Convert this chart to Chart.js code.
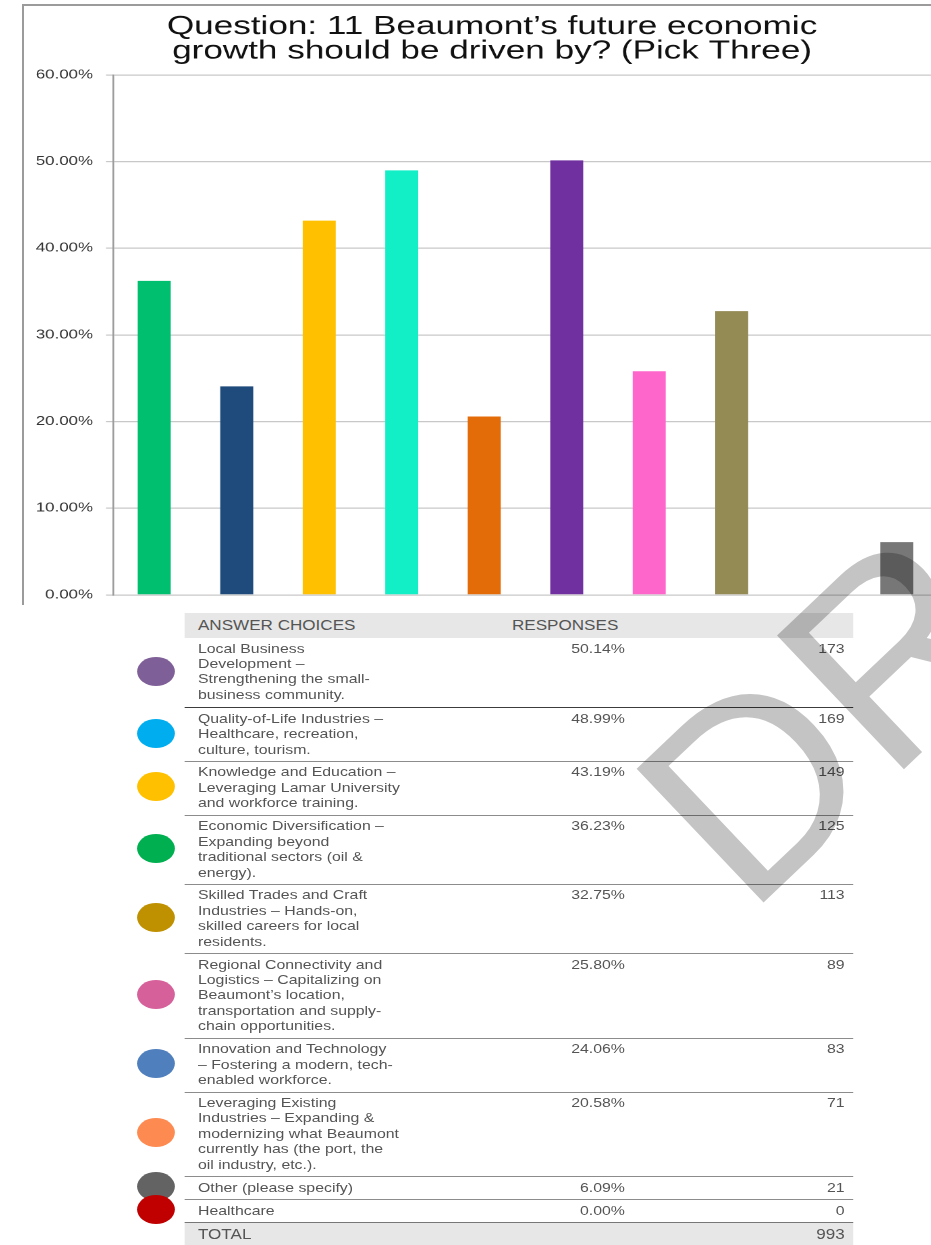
<!DOCTYPE html>
<html>
<head>
<meta charset="utf-8">
<script src="https://cdn.jsdelivr.net/npm/chart.js@4/dist/chart.umd.min.js"></script>
<style>
  html, body { margin: 0; padding: 0; background: #fff; }
  body { width: 931px; height: 1245px; position: relative; overflow: hidden; font-family: 'Liberation Sans', Arial, sans-serif; }
  #frame { position: absolute; left: 22px; top: 4px; width: 920px; height: 599px; border-left: 2px solid #9b9b9b; border-top: 2px solid #9b9b9b; }
  /* the survey export is stretched sideways, so the chart is laid out narrow and widened */
  #chartBox { position: absolute; left: 24px; top: 6px; width: 684px; height: 606px; transform: scaleX(1.35); transform-origin: 0 0; }
  #table { position: absolute; left: 120px; top: 613px; width: 601px; transform: scaleX(1.22); transform-origin: 0 0; color: #555; filter: blur(0.35px); }
  .head, .row, .total { margin-left: 53.3px; width: 547.5px; box-sizing: border-box; position: relative; }
  .head { height: 25px; background: #e7e7e7; font-size: 14px; line-height: 25px; }
  .head span { position: absolute; top: 0; }
  .row { border-top: 1.5px solid #8c8c8c; font-size: 13px; line-height: 15.4px; }
  .row.first { border-top: none; }
  .row.dark { border-top-color: #3c3c3c; }
  .choice { position: absolute; left: 10.6px; top: 2.5px; white-space: nowrap; }
  .pct { position: absolute; right: 186.9px; top: 2.5px; }
  .cnt { position: absolute; right: 6.8px; top: 2.5px; }
  .dot { position: absolute; left: -39.3px; top: 50%; width: 31px; height: 29px; margin-top: -16px; border-radius: 50%; }
  .total { height: 23px; background: #e7e7e7; border-top: 1.5px solid #777; font-size: 14px; line-height: 22px; }
  .total span { position: absolute; top: 0; }
  #wm { position: absolute; left: 0; top: 0; pointer-events: none; }
</style>
</head>
<body>
<div id="frame"></div>
<div id="chartBox"><canvas id="q11"></canvas></div>
<div id="table"></div>
<canvas id="wm" width="931" height="1245"></canvas>
<script>
// Question 11 – answers in plotted order
const categories = [
  'Economic Diversification',
  'Innovation and Technology',
  'Knowledge and Education',
  'Quality-of-Life Industries',
  'Leveraging Existing Industries',
  'Local Business Development',
  'Regional Connectivity and Logistics',
  'Skilled Trades and Craft Industries',
  'Healthcare',
  'Other (please specify)'
];
const percents = [36.23, 24.06, 43.19, 48.99, 20.58, 50.14, 25.80, 32.75, 0.00, 6.09];
const counts = [125, 83, 149, 169, 71, 173, 89, 113, 0, 21];
const totalResponses = 993;

const barColors = ['#00bf6f', '#1f4a7c', '#ffc000', '#12efc6', '#e36c09', '#7030a0', '#ff66cc', '#948a54', '#c00000', '#777777'];
const dotColors = ['#00b050', '#4f7fbd', '#ffc000', '#00aeef', '#fd8a50', '#7f5f98', '#d6609a', '#bf9000', '#c00000', '#636363'];

// answer text as it wraps in the response table
const choiceLines = [
  ['Economic Diversification –', 'Expanding beyond', 'traditional sectors (oil &', 'energy).'],
  ['Innovation and Technology', '– Fostering a modern, tech-', 'enabled workforce.'],
  ['Knowledge and Education –', 'Leveraging Lamar University', 'and workforce training.'],
  ['Quality-of-Life Industries –', 'Healthcare, recreation,', 'culture, tourism.'],
  ['Leveraging Existing', 'Industries – Expanding &', 'modernizing what Beaumont', 'currently has (the port, the', 'oil industry, etc.).'],
  ['Local Business', 'Development –', 'Strengthening the small-', 'business community.'],
  ['Regional Connectivity and', 'Logistics – Capitalizing on', 'Beaumont’s location,', 'transportation and supply-', 'chain opportunities.'],
  ['Skilled Trades and Craft', 'Industries – Hands-on,', 'skilled careers for local', 'residents.'],
  ['Healthcare'],
  ['Other (please specify)']
];

const titleLines = ['Question: 11 Beaumont’s future economic', 'growth should be driven by? (Pick Three)'];
const yMax = 60;
const yStep = 10;

const font = "'Liberation Sans', Arial, sans-serif";

// let the y tick labels run past the left layout padding without being clipped
const labelRoom = {
  id: 'labelRoom',
  afterLayout(chart) { chart.scales.y.left = 0; }
};

new Chart(document.getElementById('q11'), {
  type: 'bar',
  data: {
    labels: categories,
    datasets: [{
      data: percents,
      backgroundColor: barColors,
      borderWidth: 0,
      barPercentage: 0.4,
      categoryPercentage: 1
    }]
  },
  options: {
    responsive: true,
    maintainAspectRatio: false,
    animation: false,
    devicePixelRatio: 2,
    layout: { padding: { left: 16.4, right: 7, top: 0, bottom: 4 } },
    plugins: {
      legend: { display: false },
      tooltip: { enabled: false },
      title: {
        display: true,
        text: titleLines,
        color: '#111',
        font: { family: font, size: 26, weight: 'normal', lineHeight: 0.95 },
        padding: { top: 8.5, bottom: 11 }
      }
    },
    scales: {
      x: { display: false },
      y: {
        min: 0,
        max: yMax,
        ticks: {
          stepSize: yStep,
          color: '#333',
          font: { family: font, size: 12.5 },
          padding: 9.6,
          callback: v => v.toFixed(2) + '%'
        },
        grid: { color: '#c8c8c8', lineWidth: 1.2, tickLength: 5.2 },
        border: { color: '#9a9a9a', width: 1.3 },
        afterFit: s => { s.width = 49.5; }
      }
    }
  },
  plugins: [labelRoom]
});

// response table, highest share first
const table = document.getElementById('table');
const head = document.createElement('div');
head.className = 'head';
head.innerHTML = '<span style="left:10.6px">ANSWER CHOICES</span><span style="left:268px">RESPONSES</span>';
table.appendChild(head);

const order = percents.map((v, i) => i).sort((a, b) => percents[b] - percents[a]);
order.forEach((i, k) => {
  const row = document.createElement('div');
  row.className = 'row' + (k === 0 ? ' first' : '') + (k === 1 ? ' dark' : '');
  row.style.height = (7.6 + 15.4 * choiceLines[i].length) + 'px';

  const dot = document.createElement('span');
  dot.className = 'dot';
  dot.style.background = dotColors[i];
  row.appendChild(dot);

  const choice = document.createElement('div');
  choice.className = 'choice';
  choiceLines[i].forEach((line, j) => {
    if (j) choice.appendChild(document.createElement('br'));
    choice.appendChild(document.createTextNode(line));
  });
  row.appendChild(choice);

  const pct = document.createElement('div');
  pct.className = 'pct';
  pct.textContent = percents[i].toFixed(2) + '%';
  row.appendChild(pct);

  const cnt = document.createElement('div');
  cnt.className = 'cnt';
  cnt.textContent = counts[i];
  row.appendChild(cnt);

  table.appendChild(row);
});

const total = document.createElement('div');
total.className = 'total';
total.innerHTML = '<span style="left:10.6px">TOTAL</span><span style="right:6.8px">' + totalResponses + '</span>';
table.appendChild(total);

// draft stamp across the page
const wm = document.getElementById('wm').getContext('2d');
wm.save();
wm.translate(747.6, 917.6);
wm.rotate(-43.5 * Math.PI / 180);
wm.font = "268px 'Liberation Sans'";
wm.fillStyle = 'rgba(0, 0, 0, 0.23)';
wm.fillText('DRAFT', 0, 0);
wm.restore();
</script>
</body>
</html>
